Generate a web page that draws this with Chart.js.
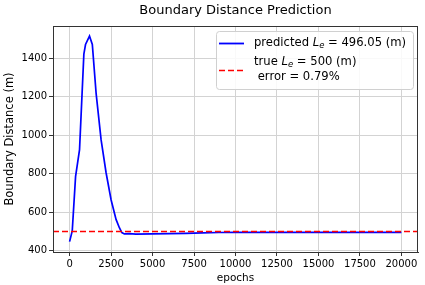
<!DOCTYPE html>
<html>
<head>
<meta charset="utf-8">
<script src="https://cdn.jsdelivr.net/npm/chart.js@4.4.1/dist/chart.umd.min.js"></script>
<style>
  html, body { margin: 0; padding: 0; background: #fff; }
</style>
</head>
<body>
<canvas id="chart" width="425" height="285"></canvas>
<script>
// values
const epochs = [0, 160, 360, 600, 860, 960, 1200, 1370, 1600, 1900, 2200, 2500, 2800, 3000, 3150, 3300, 3600, 4000, 5000, 6000, 7000, 8000, 9000, 10000, 12000, 14000, 16000, 18000, 20000];
const predicted = [448, 503, 785, 925, 1420, 1470, 1514, 1470, 1215, 975, 805, 665, 563, 520, 495, 488, 489, 487, 488, 489, 491, 493, 495, 496, 496, 496, 496, 496, 496.05];
const trueValue = 500;
const xTicks = [0, 2500, 5000, 7500, 10000, 12500, 15000, 17500, 20000];
const yTicks = [400, 600, 800, 1000, 1200, 1400];

const font = 'DejaVu Sans';

const points = epochs.map((e, i) => ({ x: e, y: predicted[i] }));

// dashed true line + frame + title + legend
const extras = {
  id: 'extras',
  afterDatasetsDraw(chart) {
    const ctx = chart.ctx;
    const a = chart.chartArea;
    const y = chart.scales.y.getPixelForValue(trueValue);
    ctx.save();
    ctx.beginPath();
    ctx.rect(a.left, a.top, a.right - a.left, a.bottom - a.top);
    ctx.clip();
    ctx.strokeStyle = '#ff0000';
    ctx.lineWidth = 1.6;
    ctx.setLineDash([6, 3]);
    ctx.beginPath();
    ctx.moveTo(a.left, y);
    ctx.lineTo(a.right, y);
    ctx.stroke();
    ctx.restore();
  },
  afterDraw(chart) {
    const ctx = chart.ctx;
    const a = chart.chartArea;
    ctx.save();
    ctx.strokeStyle = '#333';
    ctx.lineWidth = 1;
    ctx.strokeRect(a.left + 0.5, a.top + 0.5, a.right - a.left - 1, a.bottom - a.top);

    // title, centred over the plot
    ctx.fillStyle = '#000';
    ctx.font = 'normal 13px ' + font;
    ctx.textAlign = 'center';
    ctx.textBaseline = 'middle';
    ctx.fillText('Boundary Distance Prediction', (a.left + a.right) / 2, 11);
    ctx.textAlign = 'left';

    // legend box
    const bx = 216, by = 31, bw = 197, bh = 58;
    ctx.fillStyle = 'rgba(255,255,255,0.85)';
    ctx.strokeStyle = '#d0d0d0';
    ctx.beginPath();
    ctx.roundRect(bx + 0.5, by + 0.5, bw, bh, 3);
    ctx.fill();
    ctx.stroke();

    ctx.strokeStyle = '#0000ff';
    ctx.lineWidth = 1.8;
    ctx.beginPath();
    ctx.moveTo(219, 43.5);
    ctx.lineTo(244, 43.5);
    ctx.stroke();

    ctx.strokeStyle = '#ff0000';
    ctx.lineWidth = 1.6;
    ctx.setLineDash([6, 3]);
    ctx.beginPath();
    ctx.moveTo(219, 70.5);
    ctx.lineTo(244, 70.5);
    ctx.stroke();
    ctx.setLineDash([]);

    ctx.fillStyle = '#000';
    function label(parts, x, y) {
      parts.forEach(p => {
        ctx.font = p[1] + ' ' + p[2] + 'px ' + font;
        const dy = p[3] || 0;
        ctx.fillText(p[0], x, y + dy);
        x += ctx.measureText(p[0]).width;
      });
    }
    label([['predicted ', 'normal', 11.6], ['L', 'italic', 11.6], ['e', 'italic', 8.5, 3], [' = 496.05 (m)', 'normal', 11.6]], 254, 43);
    label([['true ', 'normal', 11.6], ['L', 'italic', 11.6], ['e', 'italic', 8.5, 3], [' = 500 (m)', 'normal', 11.6]], 254, 62);
    label([[' error = 0.79%', 'normal', 11.6]], 254, 77);
    ctx.restore();
  }
};

new Chart(document.getElementById('chart'), {
  type: 'line',
  data: {
    datasets: [{
      label: 'predicted',
      data: points,
      borderColor: '#0000ff',
      borderWidth: 1.7,
      pointRadius: 0,
      tension: 0,
      fill: false
    }]
  },
  options: {
    responsive: false,
    animation: false,
    layout: { padding: { left: 0, right: 7, top: 26, bottom: 0 } },
    plugins: {
      legend: { display: false },
      tooltip: { enabled: false },
      title: { display: false }
    },
    scales: {
      x: {
        type: 'linear',
        min: -1000,
        max: 21000,
        afterBuildTicks: s => { s.ticks = xTicks.map(v => ({ value: v })); },
        afterFit: s => { s.height = 33; },
        ticks: { color: '#000', font: { family: font, size: 10 }, maxRotation: 0, autoSkip: false, padding: 2, callback: v => String(v) },
        grid: { color: '#d3d3d3', tickColor: '#333', tickLength: 4 },
        border: { color: '#333' },
        title: { display: true, text: 'epochs', color: '#000', font: { family: font, size: 10.5 }, padding: { top: 2, bottom: 0 } }
      },
      y: {
        type: 'linear',
        min: 394,
        max: 1566,
        afterBuildTicks: s => { s.ticks = yTicks.map(v => ({ value: v })); },
        afterFit: s => { s.width = 53; },
        ticks: { color: '#000', font: { family: font, size: 10 }, autoSkip: false, padding: 2, callback: v => String(v) },
        grid: { color: '#d3d3d3', tickColor: '#333', tickLength: 4 },
        border: { color: '#333' },
        title: { display: true, text: 'Boundary Distance (m)', color: '#000', font: { family: font, size: 11.5 }, padding: { top: 3, bottom: 0 } }
      }
    }
  },
  plugins: [extras]
});
</script>
</body>
</html>
